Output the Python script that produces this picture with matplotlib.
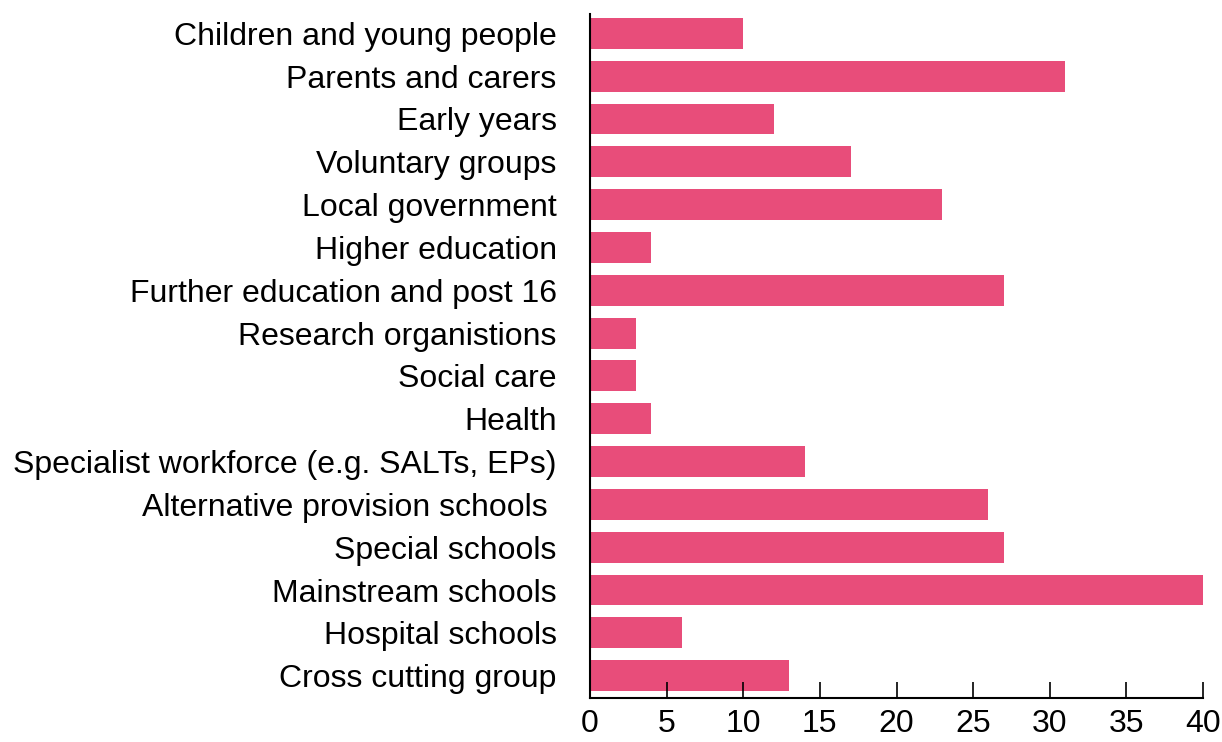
import matplotlib.pyplot as plt

plt.rcParams['font.family'] = ['Liberation Sans', 'DejaVu Sans']

groups = ['Children and young people', 'Parents and carers', 'Early years',
          'Voluntary groups', 'Local government', 'Higher education',
          'Further education and post 16', 'Research organistions', 'Social care',
          'Health', 'Specialist workforce (e.g. SALTs, EPs)',
          'Alternative provision schools ', 'Special schools', 'Mainstream schools',
          'Hospital schools', 'Cross cutting group']
counts = [10, 31, 12, 17, 23, 4, 27, 3, 3, 4, 14, 26, 27, 40, 6, 13]
xticks = [0, 5, 10, 15, 20, 25, 30, 35, 40]

fig = plt.figure(figsize=(12.22, 7.42), dpi=100)
ax = fig.add_axes([590 / 1222, 44 / 742, 613 / 1222, 684 / 742])

ypos = list(range(len(groups)))[::-1]
ax.barh(ypos, counts, height=0.72, color='#E84D7A')

ax.set_xlim(0, 40)
ax.set_ylim(-0.52, 15.45)
ax.set_xticks(xticks)
ax.set_yticks(ypos)
ax.set_yticklabels(groups, fontsize=23)
ax.tick_params(axis='x', direction='in', length=11.5, width=1.2, labelsize=23, pad=8)
ax.tick_params(axis='y', length=0, pad=24)
for s in ['top', 'right']:
    ax.spines[s].set_visible(False)
for s in ['left', 'bottom']:
    ax.spines[s].set_linewidth(1.5)

fig.savefig('out.png')
